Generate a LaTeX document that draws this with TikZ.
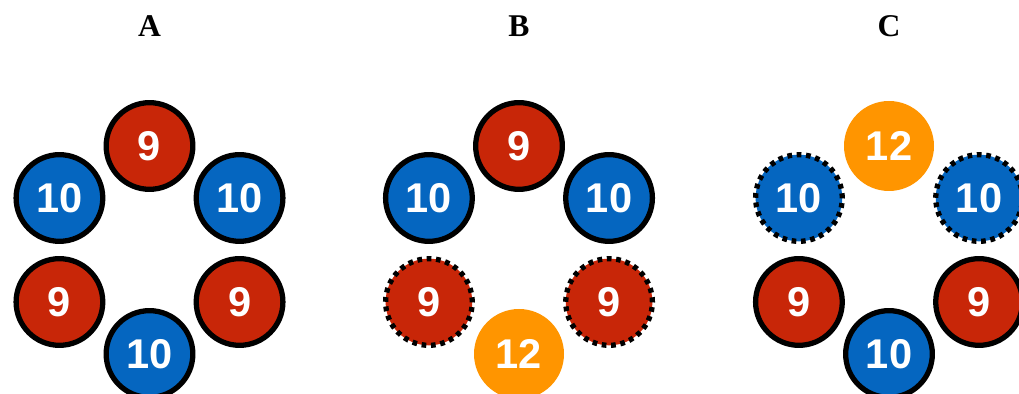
\documentclass[tikz,border=0pt]{standalone}
\usepackage{fontspec}
\setmainfont{Liberation Serif}
\setsansfont{Liberation Sans}
\usepackage{tikz}
\usetikzlibrary{positioning,calc}
\definecolor{ninered}{RGB}{200,38,8}
\definecolor{tenblue}{RGB}{5,102,192}
\definecolor{twelveorange}{RGB}{255,149,0}
\newcommand{\ballfont}{\fontsize{35.5}{35.5}\selectfont\sffamily\bfseries}
\tikzset{
  ball/.style={circle,draw=black,line width=4.5pt,minimum size=26mm,inner sep=0pt,text=white,font=\ballfont},
  nine/.style={ball,fill=ninered},
  ten/.style={ball,fill=tenblue},
  twelve/.style={circle,fill=twelveorange,minimum size=27mm,inner sep=0pt,text=white,font=\ballfont},
  loose/.style={dash pattern=on 4pt off 4pt},
  ninel/.style={nine,loose},
  tenl/.style={ten,loose},
  grouplabel/.style={font=\fontsize{27}{27}\selectfont\bfseries}
}
\begin{document}
\begin{tikzpicture}[x=0.3mm,y=0.3mm]
\useasboundingbox (0,0) rectangle (1019,394);
% Group A: all bound
\coordinate (cA) at (149.5,144);
\node[grouplabel] (labA) at (149.5,368) {A};
\foreach \a/\s/\l/\n in {90/nine/9/t,150/ten/10/ul,30/ten/10/ur,210/nine/9/ll,330/nine/9/lr,270/ten/10/b}
  \node[\s] (A\n) at ($(cA)+(\a:104)$) {\l};
% Group B: 12 at the bottom
\coordinate (cB) at (519,144);
\node[grouplabel] (labB) at (519,368) {B};
\foreach \a/\s/\l/\n in {90/nine/9/t,150/ten/10/ul,30/ten/10/ur,210/ninel/9/ll,330/ninel/9/lr,270/twelve/12/b}
  \node[\s] (B\n) at ($(cB)+(\a:104)$) {\l};
% Group C: 12 on top
\coordinate (cC) at (889,144);
\node[grouplabel] (labC) at (889,368) {C};
\foreach \a/\s/\l/\n in {90/twelve/12/t,150/tenl/10/ul,30/tenl/10/ur,210/nine/9/ll,330/nine/9/lr,270/ten/10/b}
  \node[\s] (C\n) at ($(cC)+(\a:104)$) {\l};
\end{tikzpicture}
\end{document}
